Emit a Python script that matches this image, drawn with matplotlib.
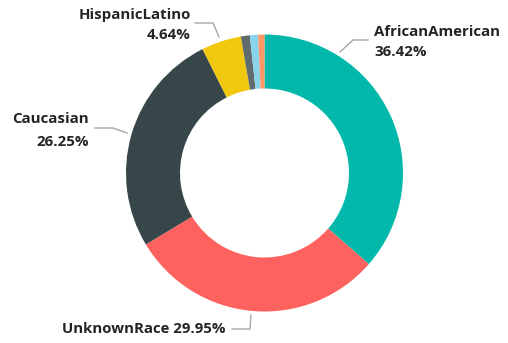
import matplotlib.pyplot as plt

# race breakdown, clockwise from 12 o'clock
races = ['AfricanAmerican', 'UnknownRace', 'Caucasian', 'HispanicLatino',
         'Other', 'Asian', 'NativeAmerican']
shares = [36.42, 29.95, 26.25, 4.64, 1.05, 0.95, 0.74]
colors = ['#01B8AA', '#FD625E', '#374649', '#F2C80F', '#5F6B6D', '#8AD4EB', '#FE9666']

W, H = 508, 343
fig = plt.figure(figsize=(W / 100, H / 100), dpi=100)
ax = fig.add_axes([0, 0, 1, 1])

cx, cy, r = 264.5, H - 173, 138.5
ax.pie(shares, colors=colors, radius=r, center=(cx, cy), startangle=90,
       counterclock=False, wedgeprops={'width': r * 0.39, 'linewidth': 0},
       frame=True)
ax.set_xlim(0, W)
ax.set_ylim(0, H)
ax.set_aspect('equal')
ax.axis('off')

fnt = {'family': ['Open Sans', 'DejaVu Sans'], 'weight': 'bold',
       'size': 10.8, 'color': '#252423'}
line_kw = {'color': '#a6a6a6', 'lw': 1}


def leader(pts):
    xs = [p[0] for p in pts]
    ys = [H - p[1] for p in pts]
    ax.plot(xs, ys, **line_kw)


def pct(i):
    return f'{shares[i]:.2f}%'


# AfricanAmerican
leader([(340, 52), (353, 40), (368, 40)])
ax.text(374, H - 32, races[0], ha='left', va='center', **fnt)
ax.text(374, H - 52, pct(0), ha='left', va='center', **fnt)

# UnknownRace
leader([(232, 329), (250, 329), (251, 315)])
ax.text(226, H - 329, f'{races[1]} {pct(1)}', ha='right', va='center', **fnt)

# Caucasian
leader([(95, 128), (113, 128), (127, 133)])
ax.text(89, H - 119, races[2], ha='right', va='center', **fnt)
ax.text(89, H - 142, pct(2), ha='right', va='center', **fnt)

# HispanicLatino
leader([(195, 23), (213, 23), (219, 37)])
ax.text(191, H - 15, races[3], ha='right', va='center', **fnt)
ax.text(191, H - 35, pct(3), ha='right', va='center', **fnt)

fig.savefig('out.png', dpi=100)
